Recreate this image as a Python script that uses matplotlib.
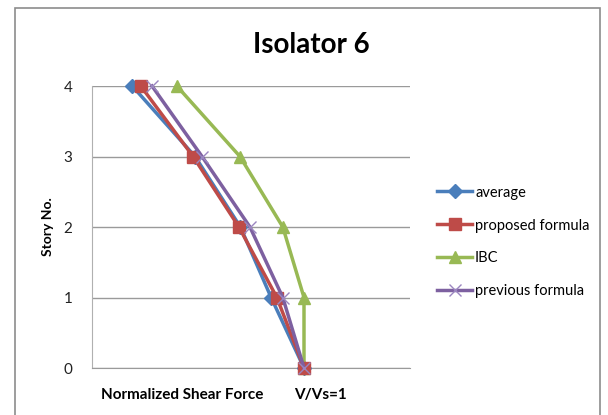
"""
Isolator 6 - normalized story shear distribution
"""
import matplotlib
matplotlib.use("Agg")
import matplotlib.pyplot as plt
from matplotlib.patches import Rectangle

plt.rcParams['font.family'] = ['Lato', 'DejaVu Sans']

stories = [4, 3, 2, 1, 0]
average = [0.19, 0.486, 0.70, 0.845, 1.0]
proposed = [0.23, 0.477, 0.693, 0.872, 1.0]
ibc = [0.40, 0.698, 0.90, 1.0, 1.0]
previous = [0.283, 0.519, 0.745, 0.90, 1.0]
yticks = [0, 1, 2, 3, 4]

fig = plt.figure(figsize=(6.08, 4.15), dpi=100)
fig.patches.append(Rectangle((15 / 608, -0.1), 585 / 608, 1.1 - 8 / 415,
                             transform=fig.transFigure, fill=False,
                             ec='#8c8c8c', lw=1.2))

ax = fig.add_axes([92 / 608, 1 - 368 / 415, 318 / 608, 282 / 415])

ax.plot(average, stories, color='#4A7EBB', lw=2.5, marker='D', ms=7,
        label='average', clip_on=False, zorder=3)
ax.plot(proposed, stories, color='#BE4B48', lw=2.5, marker='s', ms=9,
        label='proposed formula', clip_on=False, zorder=4)
ax.plot(ibc, stories, color='#98B954', lw=2.5, marker='^', ms=9,
        label='IBC', clip_on=False, zorder=3)
ax.plot(previous, stories, color='#7D60A0', lw=2.5, marker='x', ms=8,
        mec='#9b86c0', mew=1.0, label='previous formula', clip_on=False, zorder=5)

ax.set_xlim(0, 1.5)
ax.set_ylim(0, 4)
ax.set_yticks(yticks)
ax.set_xticks([])
ax.tick_params(axis='y', length=0, pad=14, labelsize=11, labelcolor='#222222')
ax.grid(axis='y', color='#9a9a9a', lw=1)
ax.set_axisbelow(True)
for s in ['top', 'right']:
    ax.spines[s].set_visible(False)
ax.spines['left'].set_color('#b0b0b0')
ax.spines['bottom'].set_color('#9a9a9a')

ax.set_ylabel('Story No.', fontweight='bold', fontsize=10, labelpad=7)
fig.text(311 / 608, 1 - 45 / 415, 'Isolator 6', ha='center', va='center',
         fontsize=20, fontweight='bold')
fig.text(182 / 608, 1 - 395 / 415, 'Normalized Shear Force', ha='center',
         va='center', fontsize=11, fontweight='bold')
fig.text(320 / 608, 1 - 395 / 415, 'V/Vs=1', ha='center', va='center',
         fontsize=11, fontweight='bold')

ax.legend(loc='center left', bbox_to_anchor=(424 / 608, 1 - 242 / 415),
          bbox_transform=fig.transFigure, frameon=False, fontsize=10.5,
          handlelength=2.4, handletextpad=0.2, labelspacing=1.3)

fig.savefig('out.png', dpi=100)
